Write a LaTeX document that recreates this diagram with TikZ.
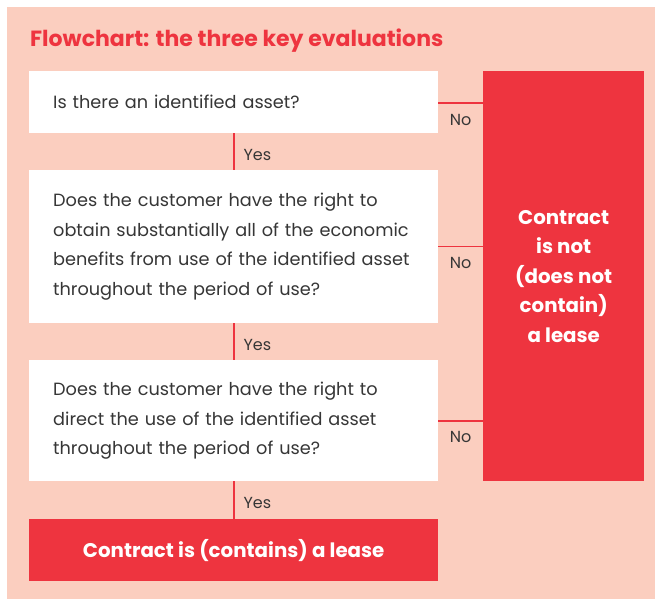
\documentclass[tikz,border=0pt]{standalone}
\usepackage{fontspec}
\setmainfont{Poppins}
\usetikzlibrary{positioning}
\definecolor{peach}{HTML}{FBCEBF}
\definecolor{leasered}{HTML}{EE343F}
\definecolor{textgrey}{HTML}{363636}

\begin{document}
\begin{tikzpicture}[x=1pt,y=-1pt,
    question/.style={fill=white, anchor=north west, minimum width=409pt,
        text width=361pt, inner xsep=24pt, inner ysep=0pt, align=left,
        text=textgrey, font=\fontsize{17.7}{29.5}\selectfont},
    outcome/.style={fill=leasered, anchor=north west, inner sep=0pt,
        text=white, align=center, font=\fontsize{19.8}{29.5}\selectfont\bfseries},
    link/.style={draw=leasered, line width=1.6pt},
    answer/.style={text=textgrey, font=\fontsize{16}{18}\selectfont, inner sep=0pt}]
    % background
    \useasboundingbox (0,0) rectangle (657,599);
    \fill[peach] (7,7) rectangle (655,599);
    \node[anchor=west, text=leasered, inner sep=0pt,
        font=\fontsize{22}{24}\selectfont\bfseries] (title) at (30,41)
        {Flowchart: the three key evaluations};

    % questions
    \node[question, minimum height=62pt] (q1) at (29,71)
        {Is there an identified asset?};
    \node[question, minimum height=153pt] (q2) at (29,170)
        {Does the customer have the right to\\
         obtain substantially all of the economic\\
         benefits from use of the identified asset\\
         throughout the period of use?};
    \node[question, minimum height=121pt] (q3) at (29,360)
        {Does the customer have the right to\\
         direct the use of the identified asset\\
         throughout the period of use?};

    % outcomes
    \node[outcome, minimum width=409pt, minimum height=62pt] (lease) at (29,519)
        {Contract is (contains) a lease};
    \node[outcome, minimum width=161pt, minimum height=410pt] (nolease) at (483,71)
        {Contract\\ is not\\ (does not\\ contain)\\ a lease};

    % yes links
    \draw[link] (q1.south) -- node[answer, right=9pt, yshift=-3pt] {Yes} (q2.north);
    \draw[link] (q2.south) -- node[answer, right=9pt, yshift=-3pt] {Yes} (q3.north);
    \draw[link] (q3.south) -- node[answer, right=9pt, yshift=-3pt] {Yes} (lease.north);

    % no links
    \draw[link] ([yshift=-1pt]q1.east) -- node[answer, below=10pt] {No} ([yshift=-1pt]q1.east -| nolease.west);
    \draw[link] (q2.east) -- node[answer, below=10pt] {No} (q2.east -| nolease.west);
    \draw[link] (q3.east) -- node[answer, below=10pt] {No} (q3.east -| nolease.west);
\end{tikzpicture}
\end{document}
